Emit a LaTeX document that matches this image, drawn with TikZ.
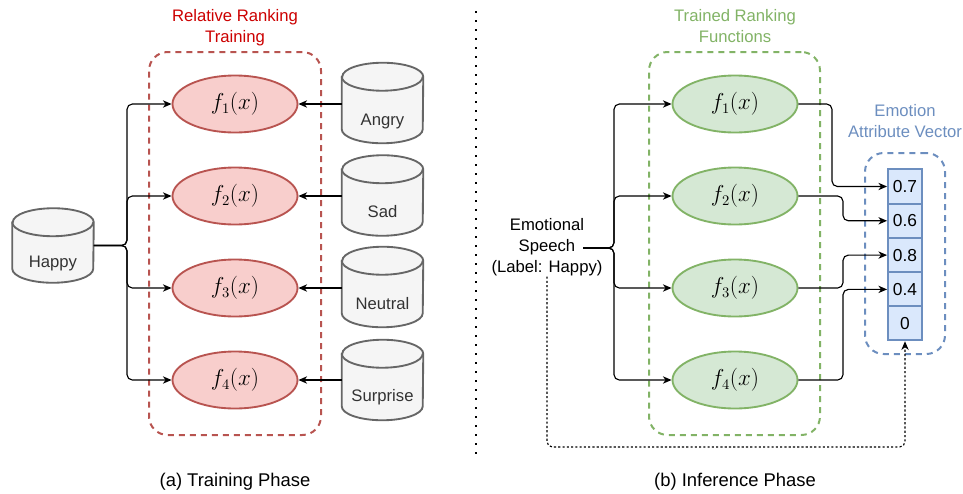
\documentclass[tikz,border=0pt]{standalone}
\usepackage{fontspec}
\setmainfont{Liberation Sans}
\usetikzlibrary{arrows.meta,calc,shapes.geometric}
\definecolor{redfill}{HTML}{F8CECC}
\definecolor{redline}{HTML}{B85450}
\definecolor{redtext}{HTML}{CC0000}
\definecolor{greenfill}{HTML}{D5E8D4}
\definecolor{greenline}{HTML}{82B366}
\definecolor{greentext}{HTML}{82B366}
\definecolor{bluefill}{HTML}{DAE8FC}
\definecolor{blueline}{HTML}{6C8EBF}
\definecolor{cylfill}{HTML}{F5F5F5}
\definecolor{cylline}{HTML}{666666}
\definecolor{cyltext}{HTML}{333333}
\tikzset{
  fnode/.style={ellipse, draw=#1line, fill=#1fill, line width=1.4pt,
    minimum width=93.75pt, minimum height=42.75pt, inner sep=0pt,
    font=\fontsize{16}{19}\selectfont},
  cylanchor/.style={rectangle, inner sep=0pt, minimum width=60.75pt, minimum height=60pt},
  cylstroke/.style={draw=cylline, fill=cylfill, line width=1.4pt},
  cyltxt/.style={anchor=base, text=cyltext, inner sep=0pt, font=\fontsize{12.5}{15}\selectfont},
  conn/.style={draw=black, line width=0.85pt, rounded corners=4pt,
    -{Stealth[length=6.5pt,width=5.5pt,inset=2pt]}},
  dotconn/.style={draw=black, line width=0.85pt, rounded corners=4pt,
    dash pattern=on 1.6pt off 1.6pt,
    -{Stealth[length=6.5pt,width=5.5pt,inset=2pt]}},
  groupbox/.style={rectangle, draw=#1, dash pattern=on 4.5pt off 3.75pt, line width=1.5pt,
    rounded corners=14pt, inner sep=0pt},
  cell/.style={rectangle, draw=blueline, fill=bluefill, line width=1.4pt,
    minimum width=25.5pt, minimum height=25.7pt, inner sep=0pt,
    font=\fontsize{13}{15}\selectfont},
  gtitle/.style={align=center, inner sep=0pt, font=\fontsize{12.5}{15.75}\selectfont},
  plaintxt/.style={align=center, inner sep=0pt, font=\fontsize{12.5}{15.75}\selectfont},
  captxt/.style={align=center, inner sep=0pt, font=\fontsize{13.8}{16}\selectfont},
  divider/.style={draw=black, line width=1.6pt, dash pattern=on 1.6pt off 5.15pt},
}
\newcommand{\drawcyl}[1]{%
  \draw[cylstroke] ([yshift=-10.5pt]#1.north west) -- ([yshift=10.5pt]#1.south west)
    arc[start angle=180,end angle=360,x radius=30.375pt,y radius=10.5pt]
    -- ([yshift=-10.5pt]#1.north east)
    arc[start angle=0,end angle=180,x radius=30.375pt,y radius=10.5pt] -- cycle;
  \draw[cylstroke,fill=none] ([yshift=-10.5pt]#1.north west)
    arc[start angle=180,end angle=360,x radius=30.375pt,y radius=10.5pt];
}
\begin{document}
\begin{tikzpicture}[x=0.75pt,y=-0.75pt]
\useasboundingbox (0,0) rectangle (963,493);

% ---------- (a) training ----------
\node[groupbox=redline, minimum width=129pt, minimum height=287.25pt] (redgroup) at (235,243.5) {};
\node[gtitle, text=redtext] (redtitle) at (235,27.5) {Relative Ranking\\Training};

\node[cylanchor, minimum height=55.5pt] (happy) at (53,245.5) {};
\node[cylanchor] (angry) at (382.5,103) {};
\node[cylanchor] (sad) at (382.5,195.5) {};
\node[cylanchor] (neutral) at (382.5,287) {};
\node[cylanchor] (surprise) at (382.5,380) {};
\drawcyl{happy}
\drawcyl{angry}
\drawcyl{sad}
\drawcyl{neutral}
\drawcyl{surprise}
\node[cyltxt] (happyt) at (53,267) {Happy};
\node[cyltxt] (angryt) at (382.5,125) {Angry};
\node[cyltxt] (sadt) at (382.5,217) {Sad};
\node[cyltxt] (neutralt) at (382.5,309) {Neutral};
\node[cyltxt] (surpriset) at (382.5,401) {Surprise};

\node[fnode=red] (f1) at (235,104) {$f_1(x)$};
\node[fnode=red] (f2) at (235,196) {$f_2(x)$};
\node[fnode=red] (f3) at (235,288) {$f_3(x)$};
\node[fnode=red] (f4) at (235,380) {$f_4(x)$};

\coordinate (lb) at (127,0);
\foreach \i in {1,...,4}{
  \draw[conn] (happy.east) -- (happy.east -| lb) |- (f\i.west);
}
\draw[conn] (f1.east -| angry.west) -- (f1.east);
\draw[conn] (f2.east -| sad.west) -- (f2.east);
\draw[conn] (f3.east -| neutral.west) -- (f3.east);
\draw[conn] (f4.east -| surprise.west) -- (f4.east);

\node[captxt] (capa) at (235,482) {(a) Training Phase};

% ---------- divider ----------
\coordinate (dtop) at (476,11);
\coordinate (dbot) at (476,457);
\draw[divider] (dtop) -- (dbot);

% ---------- (b) inference ----------
\node[groupbox=greenline, minimum width=128.25pt, minimum height=287.25pt] (greengroup) at (734.5,243.5) {};
\node[gtitle, text=greentext] (greentitle) at (735,26) {Trained Ranking\\Functions};

\node[groupbox=blueline, minimum width=60pt, minimum height=150.75pt] (bluegroup) at (905,253.5) {};
\node[gtitle, text=blueline] (bluetitle) at (905,121.5) {Emotion\\Attribute Vector};

\node[cell] (c1) at (905,186.5) {0.7};
\node[cell] (c2) at (905,220.8) {0.6};
\node[cell] (c3) at (905,255.1) {0.8};
\node[cell] (c4) at (905,289.4) {0.4};
\node[cell] (c5) at (905,323.2) {0};

\node[fnode=green] (g1) at (735,104) {$f_1(x)$};
\node[fnode=green] (g2) at (735,196) {$f_2(x)$};
\node[fnode=green] (g3) at (735,288) {$f_3(x)$};
\node[fnode=green] (g4) at (735,380) {$f_4(x)$};

\node[plaintxt] (speech) at (547,247.5) {Emotional\\Speech\\(Label: Happy)};
\coordinate (spout) at (583,248);
\coordinate (rb) at (614,0);
\foreach \i in {1,...,4}{
  \draw[conn] (spout) -- (spout -| rb) |- (g\i.west);
}
\coordinate (ob1) at (832,0);
\coordinate (ob2) at (843,0);
\draw[conn] (g1.east) -- (g1.east -| ob1) |- (c1.west);
\draw[conn] (g2.east) -- (g2.east -| ob2) |- (c2.west);
\draw[conn] (g3.east) -- (g3.east -| ob2) |- (c3.west);
\draw[conn] (g4.east) -- (g4.east -| ob2) |- (c4.west);

\coordinate (dl) at (0,447);
\draw[dotconn] (speech.south) -- (speech.south |- dl) -| (c5.south);

\node[captxt] (capb) at (735,482) {(b) Inference Phase};
\end{tikzpicture}
\end{document}
